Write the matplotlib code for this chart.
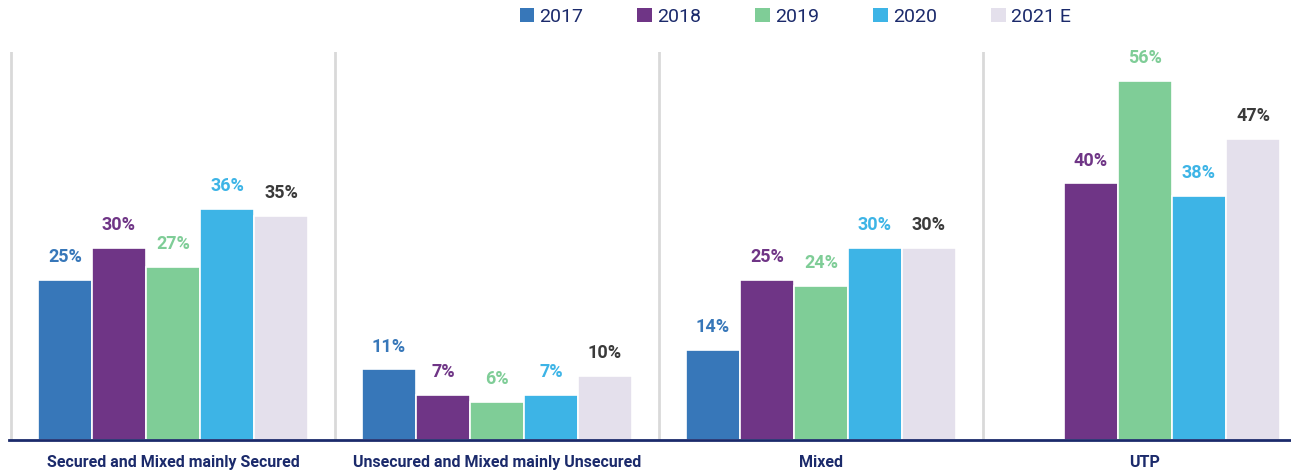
import matplotlib.pyplot as plt
import numpy as np
from matplotlib.patches import Patch

# data
categories = ['Secured and Mixed mainly Secured', 'Unsecured and Mixed mainly Unsecured', 'Mixed', 'UTP']
years = ['2017', '2018', '2019', '2020', '2021 E']
v2017 = [25, 11, 14, np.nan]
v2018 = [30, 7, 25, 40]
v2019 = [27, 6, 24, 56]
v2020 = [36, 7, 30, 38]
v2021 = [35, 10, 30, 47]
series = [v2017, v2018, v2019, v2020, v2021]

colors = ['#3777b9', '#6f3586', '#7fcd97', '#3db4e6', '#e4e0ec']
label_colors = ['#3777b9', '#6f3586', '#7fcd97', '#3db4e6', '#3a3a3a']
navy = '#1b2a6b'

plt.rcParams['font.family'] = ['Roboto', 'DejaVu Sans']

fig = plt.figure(figsize=(12.91, 4.70), dpi=100)
ax = fig.add_axes([9/1291, 30/470, 1282/1291, 388/470])

x = np.arange(len(categories))
w = 54/324
for k, vals in enumerate(series):
    pos = x + (k - 2) * w
    for xi, v in zip(pos, vals):
        if np.isnan(v):
            continue
        ax.bar(xi, v, width=w, color=colors[k], edgecolor='white', linewidth=1.2)
        ax.annotate(f'{v:.0f}%', (xi, v), xytext=(0, 10), textcoords='offset points',
                    ha='center', va='bottom', fontsize=13, fontweight='bold',
                    color=label_colors[k])

# separators
for i in range(len(categories)):
    ax.axvline(i - 0.5, color='#d9d9d9', linewidth=2, zorder=0)

ax.set_xlim(-0.5 - 2/324, -0.5 + 1280/324)
ax.set_ylim(0, 60.5)
for s in ['top', 'right', 'left']:
    ax.spines[s].set_visible(False)
ax.spines['bottom'].set_color(navy)
ax.spines['bottom'].set_linewidth(2)
ax.set_yticks([])
ax.set_xticks(x)
ax.set_xticklabels(categories, fontsize=11.5, fontweight='bold', color=navy)
ax.tick_params(axis='x', length=0, pad=11)

handles = [Patch(facecolor=c, edgecolor='none') for c in colors]
fig.legend(handles, years, loc='center', bbox_to_anchor=(795/1291, 1 - 17/470), ncol=5,
           frameon=False, fontsize=14, labelcolor=navy, handlelength=0.75, handleheight=0.75,
           handletextpad=0.25, columnspacing=2.8)

fig.savefig('out.png', dpi=100)
